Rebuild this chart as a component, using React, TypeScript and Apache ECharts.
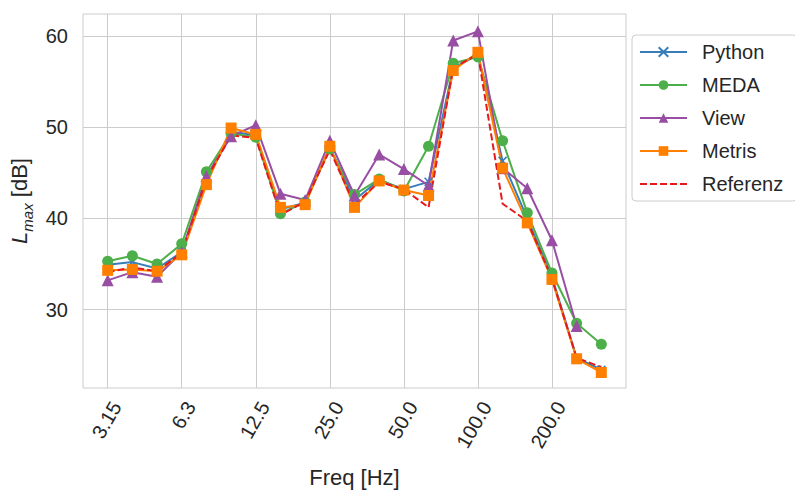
import React, { useEffect, useRef } from "react";
import * as echarts from "echarts";

const freqLabels = ["3.15", "4.0", "5.0", "6.3", "8.0", "10.0", "12.5", "16.0", "20.0", "25.0", "31.5", "40.0", "50.0", "63.0", "80.0", "100.0", "125.0", "160.0", "200.0", "250.0", "315.0"];
const tickLabels = ["3.15", "6.3", "12.5", "25.0", "50.0", "100.0", "200.0"];
const yTicks = [30, 40, 50, 60];

const python = [34.9, 35.2, 34.5, 36.3, 44.4, 49.5, 49.1, 41.0, 41.7, 47.8, 42.0, 44.2, 43.2, 44.0, 56.5, 57.9, 46.3, 40.0, 33.6, 24.7, 23.4];
const meda = [35.3, 35.9, 35.0, 37.2, 45.1, 49.3, 48.9, 40.5, 41.8, 47.6, 42.6, 44.3, 43.0, 47.9, 57.0, 57.7, 48.5, 40.6, 34.0, 28.5, 26.2];
const view = [33.2, 34.1, 33.6, 36.3, 44.6, 49.0, 50.2, 42.7, 42.0, 48.5, 42.5, 47.0, 45.4, 43.6, 59.5, 60.5, 45.5, 43.3, 37.6, 28.2, null];
const metris = [34.3, 34.4, 34.2, 36.0, 43.7, 49.9, 49.2, 41.2, 41.5, 47.9, 41.2, 44.1, 43.1, 42.5, 56.2, 58.2, 45.5, 39.5, 33.3, 24.6, 23.1];
const referenz = [34.1, 34.6, 34.2, 36.2, 44.3, 49.1, 48.8, 40.4, 41.8, 47.5, 41.5, 44.0, 43.2, 41.2, 56.5, 58.0, 41.6, 39.7, 33.4, 24.7, 23.7];

const FONT = "Liberation Sans, Arial, sans-serif";
const TXT = "#262626";

export default function App() {
  const ref = useRef<HTMLDivElement>(null);
  useEffect(() => {
    if (!ref.current) return;
    const chart = echarts.init(ref.current, undefined, { renderer: "svg" });
    const cats = ["", ...freqLabels, " "];
    const pad = (a: (number | null)[]) => [null, ...a, null];
    const showTick = (_i: number, v: string) => tickLabels.includes(v);
    const mk = (name: string, data: (number | null)[], color: string, symbol: string, size: number, extra: any = {}) => ({
      name,
      type: "line",
      data: pad(data),
      symbol,
      symbolSize: size,
      lineStyle: { color, width: 2 },
      itemStyle: { color },
      ...extra,
    });
    chart.setOption({
      animation: false,
      backgroundColor: "#fff",
      grid: { left: 83, right: 169, top: 14, bottom: 97.5, show: true, borderColor: "#cccccc", borderWidth: 1 },
      xAxis: {
        type: "category",
        data: cats,
        boundaryGap: false,
        name: "Freq [Hz]",
        nameLocation: "middle",
        nameGap: 78,
        nameTextStyle: { fontSize: 22, color: TXT, fontFamily: FONT },
        axisLine: { show: false },
        axisTick: { show: false, interval: showTick },
        axisLabel: {
          interval: showTick,
          rotate: 60,
          align: "right",
          verticalAlign: "top",
          margin: 10,
          fontSize: 20,
          color: TXT,
          fontFamily: FONT,
        },
        splitLine: { show: true, interval: showTick, lineStyle: { color: "#cccccc", width: 1 } },
      },
      yAxis: {
        type: "value",
        min: 21.4,
        max: 62.4,
        name: "{i|L}{s|max}{n| [dB]}",
        nameLocation: "middle",
        nameRotate: 90,
        nameGap: 44,
        nameTextStyle: {
          color: TXT,
          fontFamily: FONT,
          rich: {
            i: { fontSize: 22, fontStyle: "italic", color: TXT, fontFamily: FONT, lineHeight: 28, verticalAlign: "bottom" },
            s: { fontSize: 15, fontStyle: "italic", color: TXT, fontFamily: FONT, lineHeight: 28, verticalAlign: "bottom", padding: [0, 0, -4, 0] },
            n: { fontSize: 22, color: TXT, fontFamily: FONT, lineHeight: 28, verticalAlign: "bottom" },
          },
        },
        axisLine: { show: false },
        axisTick: { show: false, customValues: yTicks },
        axisLabel: { customValues: yTicks, fontSize: 20, color: TXT, fontFamily: FONT, margin: 15 },
        splitLine: { show: true, lineStyle: { color: "#cccccc", width: 1 } },
      },
      legend: {
        orient: "vertical",
        left: 632,
        top: 35,
        padding: [6, 14, 6, 7],
        itemWidth: 47,
        itemHeight: 12,
        itemGap: 11,
        backgroundColor: "#fff",
        borderColor: "#cccccc",
        borderWidth: 1,
        borderRadius: 4,
        textStyle: { fontSize: 20, color: TXT, fontFamily: FONT, padding: [0, 0, 0, 10], lineHeight: 22 },
        data: ["Python", "MEDA", "View", "Metris", "Referenz"],
      },
      series: [
        mk("Python", python, "#377eb8", "path://M0,0L10,10M10,0L0,10", 8, {
          itemStyle: { color: "#377eb8", borderColor: "#377eb8", borderWidth: 1.5 },
        }),
        mk("MEDA", meda, "#4daf4a", "circle", 11),
        mk("View", view, "#984ea3", "triangle", 12),
        mk("Metris", metris, "#ff7f00", "rect", 11),
        mk("Referenz", referenz, "#e41a1c", "none", 0, {
          showSymbol: false,
          itemStyle: { color: "#e41a1c", opacity: 0 },
          lineStyle: { color: "#e41a1c", width: 2, type: [7, 3] },
        }),
      ],
    });
    return () => chart.dispose();
  }, []);
  return <div ref={ref} style={{ width: 795, height: 493, position: "absolute", left: 0, top: 0 }} />;
}
